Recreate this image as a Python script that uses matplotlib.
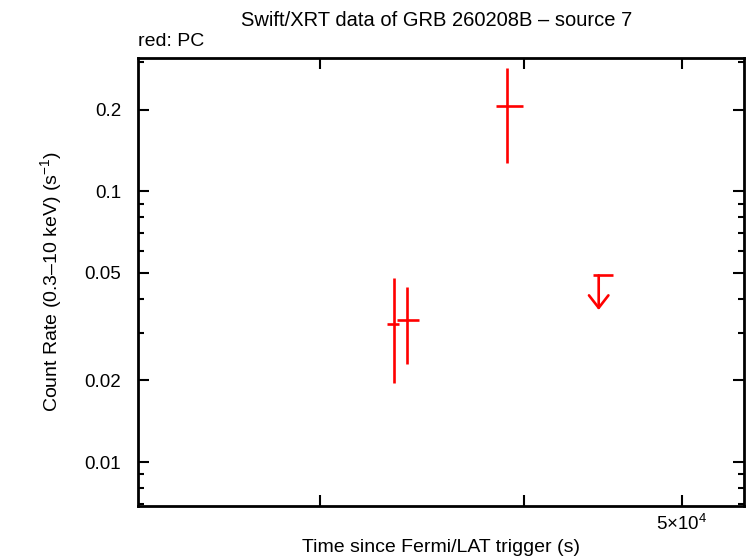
import matplotlib
matplotlib.use("Agg")
import matplotlib.pyplot as plt
from matplotlib.ticker import FixedLocator, NullFormatter, FixedFormatter, NullLocator
import numpy as np

plt.rcParams['font.family'] = ['Liberation Sans', 'DejaVu Sans']
plt.rcParams['mathtext.fontset'] = 'custom'
plt.rcParams['mathtext.rm'] = 'Liberation Sans'
plt.rcParams['mathtext.it'] = 'Liberation Sans'
plt.rcParams['mathtext.default'] = 'regular'

# PC detections
t = [33310, 33920, 39060]
t_lo = [32970, 33430, 38440]
t_hi = [33550, 34510, 39930]
rate = [0.03222, 0.03342, 0.2053]
rate_hi = [0.04764, 0.04422, 0.2837]
rate_lo = [0.01952, 0.02293, 0.1272]

# PC upper limit
ul_t = [44450]
ul_t_lo = [44120]
ul_t_hi = [45380]
ul_rate = [0.04886]
ul_arrow_end = [0.0364]

fig = plt.figure(figsize=(7.46, 5.58), dpi=100)
ax = fig.add_axes([138/746, 1-506/558, (744-138)/746, (506-58)/558])
ax.set_xscale('log')
ax.set_yscale('log')
ax.set_xlim(23210, 54560)
ax.set_ylim(0.00688, 0.31)

t_a = np.array(t); r_a = np.array(rate)
xerr = [t_a - np.array(t_lo), np.array(t_hi) - t_a]
yerr = [r_a - np.array(rate_lo), np.array(rate_hi) - r_a]
ax.errorbar(t, rate, xerr=xerr, yerr=yerr, fmt='none', ecolor='#ff0000',
            elinewidth=1.9, capsize=0)

for x, xl, xh, y, ye in zip(ul_t, ul_t_lo, ul_t_hi, ul_rate, ul_arrow_end):
    ax.plot([xl, xh], [y, y], color='#ff0000', lw=1.9, solid_capstyle='butt')
    ax.annotate('', xy=(x, ye), xytext=(x, y),
                arrowprops=dict(arrowstyle='->,head_length=0.9,head_width=0.7',
                                color='#ff0000', lw=1.9, shrinkA=0, shrinkB=0))

# ticks
xmaj = [30000, 40000, 50000]
ax.xaxis.set_major_locator(FixedLocator(xmaj))
ax.xaxis.set_major_formatter(FixedFormatter(['', '', '5\u00d710$^{4}$']))
ax.xaxis.set_minor_locator(NullLocator())
ax.xaxis.set_minor_formatter(NullFormatter())

ymaj = [0.01, 0.02, 0.05, 0.1, 0.2]
ylab = ['0.01', '0.02', '0.05', '0.1', '0.2']
ymin = [0.007, 0.008, 0.009, 0.03, 0.04, 0.06, 0.07, 0.08, 0.09, 0.3]
ax.yaxis.set_major_locator(FixedLocator(ymaj))
ax.yaxis.set_major_formatter(FixedFormatter(ylab))
ax.yaxis.set_minor_locator(FixedLocator(ymin))
ax.yaxis.set_minor_formatter(NullFormatter())

ax.tick_params(which='both', direction='in', top=True, right=True, width=1.5, labelsize=13.5, colors='black')
ax.tick_params(axis='y', which='major', length=8, pad=12)
ax.tick_params(axis='x', which='major', length=8, pad=6)
ax.tick_params(which='minor', length=4)
for s in ax.spines.values():
    s.set_linewidth(2)

ax.set_xlabel('Time since Fermi/LAT trigger (s)', fontsize=14, labelpad=3)
ax.set_ylabel('Count Rate (0.3\u201310 keV) (s$^{\u22121}$)', fontsize=14, labelpad=15)
fig.text(437/746, 1-20/558, 'Swift/XRT data of GRB 260208B \u2013 source 7', ha='center', va='center', fontsize=14.5)
fig.text(138/746, 1-42/558, 'red: PC', ha='left', va='center', fontsize=14)

fig.savefig('out.png', dpi=100)
